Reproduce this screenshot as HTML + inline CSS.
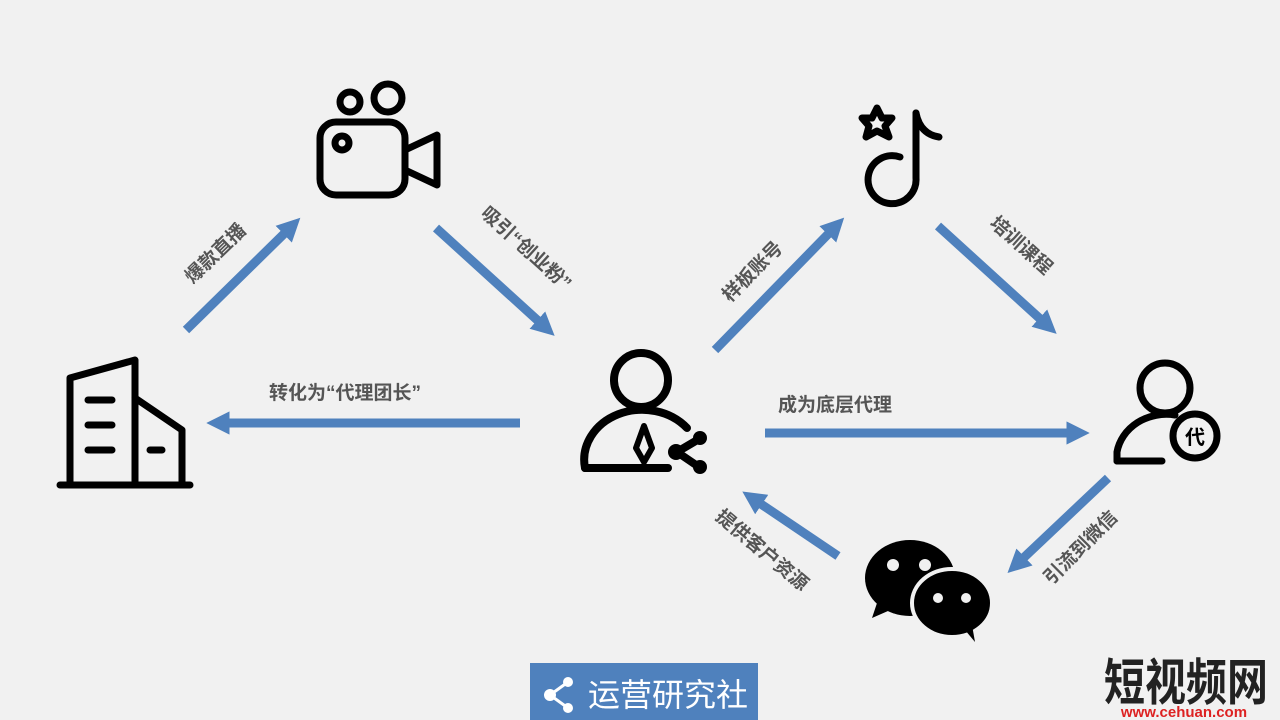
<!DOCTYPE html>
<html><head><meta charset="utf-8"><style>
html,body{margin:0;padding:0;background:#f1f1f1;}
svg{display:block}
text{font-family:"Liberation Sans","Noto Sans CJK SC",sans-serif;}
</style></head><body>
<svg width="1280" height="720" viewBox="0 0 1280 720" xmlns="http://www.w3.org/2000/svg">
<rect width="1280" height="720" fill="#f1f1f1"/>
<defs>
<marker id="ah" viewBox="0 0 10 10" refX="5" refY="5" markerWidth="2.6" markerHeight="2.6" orient="auto" markerUnits="strokeWidth">
<path d="M0,0 L10,5 L0,10 z" fill="#4f81bd"/></marker>
</defs>
<g stroke="#4f81bd" stroke-width="9" fill="none" marker-end="url(#ah)">
<line x1="186" y1="330" x2="292" y2="226"/>
<line x1="436" y1="228" x2="546" y2="328"/>
<line x1="520" y1="423" x2="218" y2="423"/>
<line x1="715" y1="350" x2="836" y2="226"/>
<line x1="938" y1="226" x2="1048" y2="326"/>
<line x1="765" y1="433" x2="1078" y2="433"/>
<line x1="1108" y1="478" x2="1016" y2="565"/>
<line x1="838" y1="556" x2="752" y2="498"/>
</g>
<g fill="#555" font-size="19" font-weight="bold">
<text transform="translate(220,258) rotate(-44)" text-anchor="middle">爆款直播</text>
<text transform="translate(522,253) rotate(42)" text-anchor="middle">吸引“创业粉”</text>
<text x="345" y="399" text-anchor="middle">转化为“代理团长”</text>
<text transform="translate(757,276) rotate(-45)" text-anchor="middle">样板账号</text>
<text transform="translate(1017,250) rotate(42)" text-anchor="middle">培训课程</text>
<text x="835" y="411" text-anchor="middle">成为底层代理</text>
<text transform="translate(1085,552) rotate(-45)" text-anchor="middle">引流到微信</text>
<text transform="translate(758,555) rotate(40)" text-anchor="middle">提供客户资源</text>
</g>
<!-- building -->
<g stroke="#000" stroke-width="7" fill="none" stroke-linecap="round" stroke-linejoin="round">
<path d="M70,484 V378 L135,360 V484"/>
<path d="M135,398 L182,430 V484"/>
<line x1="60" y1="485" x2="190" y2="485"/>
<line x1="88" y1="400" x2="112" y2="400"/>
<line x1="88" y1="425" x2="112" y2="425"/>
<line x1="88" y1="450" x2="112" y2="450"/>
<line x1="150" y1="450" x2="162" y2="450"/>
</g>
<!-- camera -->
<g stroke="#000" stroke-width="7" fill="none" stroke-linejoin="round">
<rect x="320" y="122" width="85" height="73" rx="16"/>
<path d="M405,150 L437,135 V185 L405,170"/>
<circle cx="350" cy="102" r="10"/>
<circle cx="388" cy="98" r="14"/>
<circle cx="342" cy="143" r="7"/>
</g>
<!-- tiktok -->
<g stroke="#000" stroke-width="7" fill="none" stroke-linecap="round" stroke-linejoin="round">
<path d="M877,108 L882,118 L892,118 L885,126 L889,137 L877,131 L866,137 L869,126 L862,118 L872,118 Z"/>
<path d="M916,113 V178 A24,24 0 1 1 900,157"/>
<path d="M916,113 Q920,134 939,137"/>
</g>
<!-- center person -->
<g stroke="#000" stroke-width="8" fill="none" stroke-linecap="round" stroke-linejoin="round">
<circle cx="641" cy="380" r="27"/>
<path d="M585,468 A58,50 0 0 1 687,428"/>
<line x1="585" y1="468" x2="668" y2="468"/>
<path d="M644,426 L652,448 L644,462 L636,448 Z" stroke-width="6"/>
<line x1="699" y1="439" x2="677" y2="452"/>
<line x1="677" y1="452" x2="699" y2="467"/>
</g>
<g fill="#000"><circle cx="700" cy="438" r="7"/><circle cx="676" cy="452" r="8"/><circle cx="700" cy="467" r="7"/></g>
<!-- agent -->
<g stroke="#000" stroke-width="7" fill="none" stroke-linecap="round">
<circle cx="1165" cy="388" r="25"/>
<path d="M1117,461 V452 A50,45 0 0 1 1175,415"/>
<line x1="1117" y1="461" x2="1162" y2="461"/>
<circle cx="1195" cy="436" r="22"/>
</g>
<text x="1195" y="444" text-anchor="middle" font-size="20" font-weight="bold" fill="#000">代</text>
<!-- wechat -->
<g>
<ellipse cx="910" cy="578" rx="45" ry="38" fill="#000"/>
<path d="M878,600 L872,618 L895,608 Z" fill="#000"/>
<ellipse cx="952" cy="603" rx="40" ry="34" fill="#000" stroke="#f1f1f1" stroke-width="4"/>
<path d="M965,630 L975,642 L972,625 Z" fill="#000"/>
<circle cx="893" cy="565" r="6" fill="#f1f1f1"/><circle cx="925" cy="565" r="6" fill="#f1f1f1"/>
<circle cx="938" cy="598" r="5" fill="#f1f1f1"/><circle cx="966" cy="598" r="5" fill="#f1f1f1"/>
</g>
<!-- logo box -->
<rect x="530" y="663" width="228" height="60" fill="#4f81bd"/>
<g stroke="#fff" stroke-width="3" fill="none"><line x1="568" y1="682" x2="550" y2="695"/><line x1="550" y1="695" x2="568" y2="708"/></g>
<g fill="#fff"><circle cx="568" cy="682" r="5"/><circle cx="550" cy="695" r="6"/><circle cx="568" cy="708" r="5"/></g>
<text x="588" y="706" font-size="32" fill="#fff">运营研究社</text>
<!-- watermark -->
<text transform="translate(1186,700) scale(0.82,1)" text-anchor="middle" font-size="50" font-weight="bold" fill="#222">短视频网</text>
<text x="1184" y="717" text-anchor="middle" font-size="15" fill="#d22" font-weight="bold">www.cehuan.com</text>
</svg>
</body></html>
